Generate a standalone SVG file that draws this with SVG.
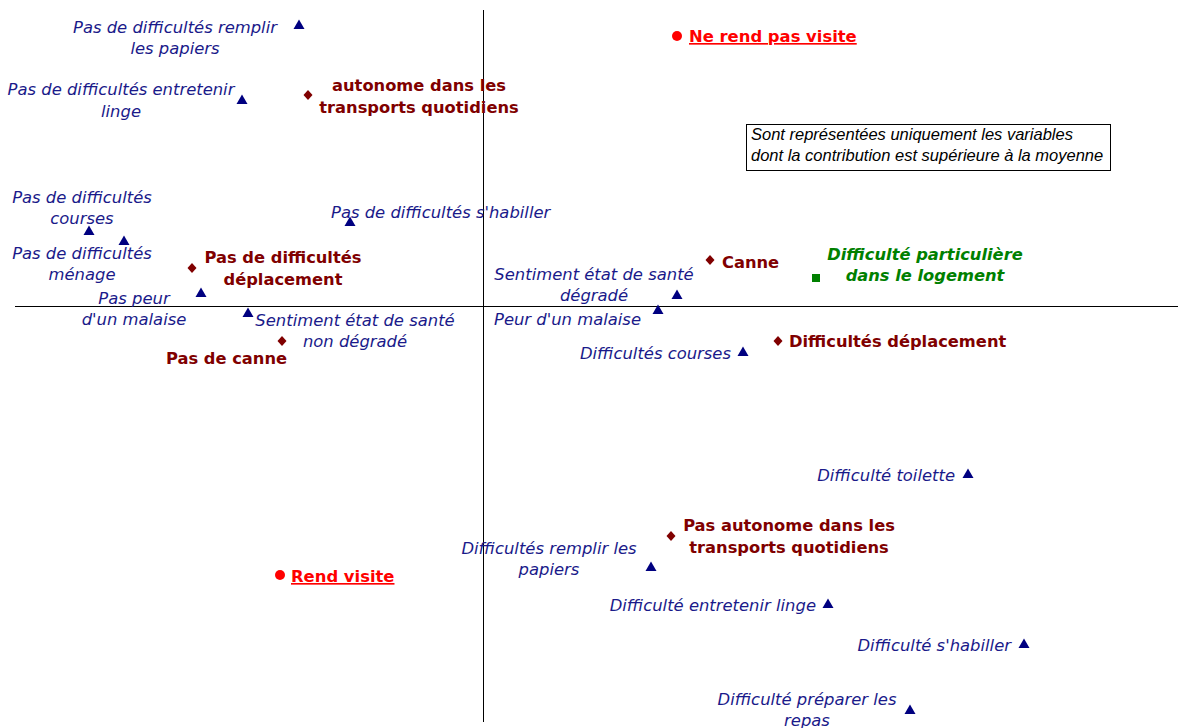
<svg xmlns="http://www.w3.org/2000/svg" xmlns:xlink="http://www.w3.org/1999/xlink" width="1178" height="728" viewBox="0 0 1178 728">
<defs>
<style>
.it{font-family:"DejaVu Sans",Verdana,sans-serif;font-style:italic;font-size:16.4px;fill:#1a1a8a}
.bd{font-family:"DejaVu Sans",Verdana,sans-serif;font-weight:bold;font-size:16.3px;fill:#800000}
.rd{font-family:"DejaVu Sans",Verdana,sans-serif;font-weight:bold;font-size:16.4px;fill:#ff0000;text-decoration:underline}
.gr{font-family:"DejaVu Sans",Verdana,sans-serif;font-weight:bold;font-style:italic;font-size:16.3px;fill:#008000}
.nt{font-family:"Liberation Sans",Arial,sans-serif;font-style:italic;font-size:16.5px;fill:#000}
.m{text-anchor:middle}
.e{text-anchor:end}
.ax{stroke:#000;stroke-width:1;fill:none}
</style>
<path id="tri" d="M0,-5.5 L5.5,4 L-5.5,4 Z" fill="#000080"/>
<path id="dia" d="M0,-5 L4.5,0 L0,5 L-4.5,0 Z" fill="#800000"/>
<circle id="dot" r="5" fill="#ff0000"/>
<rect id="sq" x="-4" y="-4" width="8" height="8" fill="#008000"/>
</defs>
<rect width="1178" height="728" fill="#fff"/>
<g id="axes">
<line class="ax" x1="483.5" y1="10" x2="483.5" y2="722"/>
<line class="ax" x1="15" y1="306.5" x2="1178" y2="306.5"/>
</g>
<g id="note">
<rect x="746.5" y="124.5" width="364" height="46" fill="#fff" stroke="#000"/>
<text class="nt" x="751" y="140">Sont représentées uniquement les variables</text>
<text class="nt" x="751" y="161">dont la contribution est supérieure à la moyenne</text>
</g>
<g id="n1"><use href="#tri" x="299" y="25"/><text class="it m" x="175" y="33">Pas de difficultés remplir</text><text class="it m" x="175" y="54">les papiers</text></g>
<g id="n2"><use href="#tri" x="242" y="100"/><text class="it m" x="121" y="95">Pas de difficultés entretenir</text><text class="it m" x="121" y="117">linge</text></g>
<g id="n3"><use href="#dia" x="308" y="95"/><text class="bd m" x="419" y="91">autonome dans les</text><text class="bd m" x="419" y="113">transports quotidiens</text></g>
<g id="n4"><use href="#dot" x="677" y="36"/><text class="rd" x="689" y="42">Ne rend pas visite</text></g>
<g id="n6"><use href="#tri" x="89" y="231"/><text class="it m" x="82" y="203">Pas de difficultés</text><text class="it m" x="82" y="224">courses</text></g>
<g id="n7"><use href="#tri" x="124" y="241"/><text class="it m" x="82" y="259">Pas de difficultés</text><text class="it m" x="82" y="280">ménage</text></g>
<g id="n8"><use href="#tri" x="350" y="222"/><text class="it" x="331" y="218">Pas de difficultés s'habiller</text></g>
<g id="n9"><use href="#dia" x="192" y="268"/><text class="bd m" x="283" y="263">Pas de difficultés</text><text class="bd m" x="283" y="285">déplacement</text></g>
<g id="n10"><use href="#tri" x="201" y="293"/><text class="it m" x="134" y="304">Pas peur</text><text class="it m" x="134" y="325">d'un malaise</text></g>
<g id="n11"><use href="#tri" x="248" y="313"/><text class="it m" x="355" y="326">Sentiment état de santé</text><text class="it m" x="355" y="347">non dégradé</text></g>
<g id="n12"><use href="#dia" x="282" y="341"/><text class="bd" x="166" y="364">Pas de canne</text></g>
<g id="n13"><use href="#tri" x="658" y="310"/><text class="it" x="494" y="325">Peur d'un malaise</text></g>
<g id="n14"><use href="#tri" x="677" y="295"/><text class="it m" x="594" y="280">Sentiment état de santé</text><text class="it m" x="594" y="301">dégradé</text></g>
<g id="n15"><use href="#dia" x="710" y="260"/><text class="bd" x="722" y="268">Canne</text></g>
<g id="n16"><use href="#sq" x="816" y="278"/><text class="gr m" x="925" y="260">Difficulté particulière</text><text class="gr m" x="925" y="281">dans le logement</text></g>
<g id="n17"><use href="#dia" x="778" y="341"/><text class="bd" x="789" y="347">Difficultés déplacement</text></g>
<g id="n18"><use href="#tri" x="743" y="352"/><text class="it e" x="731" y="359">Difficultés courses</text></g>
<g id="n19"><use href="#tri" x="968" y="474"/><text class="it e" x="955" y="481">Difficulté toilette</text></g>
<g id="n20"><use href="#dia" x="671" y="536"/><text class="bd m" x="789" y="531">Pas autonome dans les</text><text class="bd m" x="789" y="553">transports quotidiens</text></g>
<g id="n21"><use href="#tri" x="651" y="567"/><text class="it m" x="549" y="554">Difficultés remplir les</text><text class="it m" x="549" y="575">papiers</text></g>
<g id="n22"><use href="#dot" x="280" y="575"/><text class="rd" x="291" y="582">Rend visite</text></g>
<g id="n23"><use href="#tri" x="828" y="604"/><text class="it e" x="816" y="611">Difficulté entretenir linge</text></g>
<g id="n24"><use href="#tri" x="1024" y="644"/><text class="it e" x="1011" y="651">Difficulté s'habiller</text></g>
<g id="n25"><use href="#tri" x="910" y="710"/><text class="it m" x="807" y="705">Difficulté préparer les</text><text class="it m" x="807" y="726">repas</text></g>
</svg>
